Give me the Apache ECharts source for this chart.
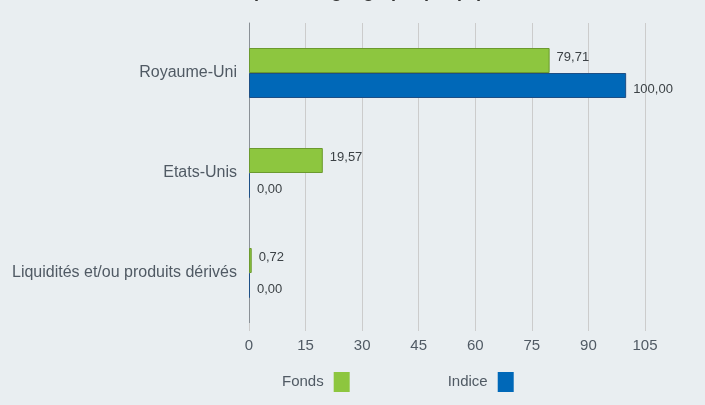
<!DOCTYPE html>
<html>
<head>
    <meta charset="utf-8">
    <title>Répartition géographique</title>
    <script src="https://cdn.jsdelivr.net/npm/echarts@6/dist/echarts.min.js"></script>
    <style>
        html, body { margin: 0; padding: 0; background: #e9eef1; }
    </style>
</head>
<body>
<div id="main" style="width: 705px;height:405px;"></div>
<script type="text/javascript">
    // données
    var pays = ['Royaume-Uni', 'Etats-Unis', 'Liquidités et/ou produits dérivés'];
    var fonds = [79.71, 19.57, 0.72];
    var indice = [100.00, 0.00, 0.00];
    var ticks = [0, 15, 30, 45, 60, 75, 90, 105];

    var myChart = echarts.init(document.getElementById('main'), null, {renderer: 'canvas'});

    function fmt(p) {
        return p.value.toFixed(2).replace('.', ',');
    }

    var option = {
        backgroundColor: '#e9eef1',
        textStyle: { fontFamily: 'Liberation Sans, Arial, sans-serif' },
        title: {
            text: 'Répartition géographique (%)',
            left: 478,
            textAlign: 'right',
            top: -22,
            textStyle: { fontSize: 18, fontWeight: 'bold', color: '#333' }
        },
        legend: {
            left: 282,
            top: 370,
            padding: 0,
            align: 'right',
            itemWidth: 16,
            itemHeight: 20,
            itemGap: 98,
            icon: 'rect',
            itemStyle: { borderWidth: 0 },
            textStyle: { fontSize: 15, color: '#505a64', padding: [0, 5, 0, 0], lineHeight: 24 },
            data: ['Fonds', 'Indice']
        },
        grid: {
            left: 249,
            right: 60,
            top: 23,
            bottom: 82,
            containLabel: false
        },
        xAxis: {
            type: 'value',
            min: ticks[0],
            max: ticks[ticks.length - 1],
            interval: 15,
            axisLine: { show: false },
            axisTick: { show: true, length: 8, lineStyle: { color: '#cccccc' } },
            axisLabel: { fontSize: 15, color: '#505a64', margin: 15 },
            splitLine: { show: true, lineStyle: { color: '#cccccc', width: 1 } }
        },
        yAxis: {
            type: 'category',
            inverse: true,
            data: pays,
            axisLine: { show: true, lineStyle: { color: '#8a9096', width: 1 } },
            axisTick: { show: false },
            axisLabel: { fontSize: 16, color: '#505a64', margin: 12 }
        },
        series: [
            {
                name: 'Fonds',
                type: 'bar',
                data: fonds,
                barGap: '0%',
                barCategoryGap: '50%',
                itemStyle: { color: '#8dc63f', borderColor: '#6b9a2e', borderWidth: 1 },
                label: {
                    show: true,
                    position: 'right',
                    distance: 7,
                    offset: [0, -3],
                    fontSize: 13,
                    color: '#3c4246',
                    formatter: fmt
                }
            },
            {
                name: 'Indice',
                type: 'bar',
                data: indice,
                barMinHeight: 1,
                itemStyle: { color: '#0068b8', borderColor: '#1d4f85', borderWidth: 1 },
                label: {
                    show: true,
                    position: 'right',
                    distance: 7,
                    offset: [0, 4],
                    fontSize: 13,
                    color: '#3c4246',
                    formatter: fmt
                }
            }
        ]
    };

    myChart.setOption(option);
</script>
</body>
</html>
